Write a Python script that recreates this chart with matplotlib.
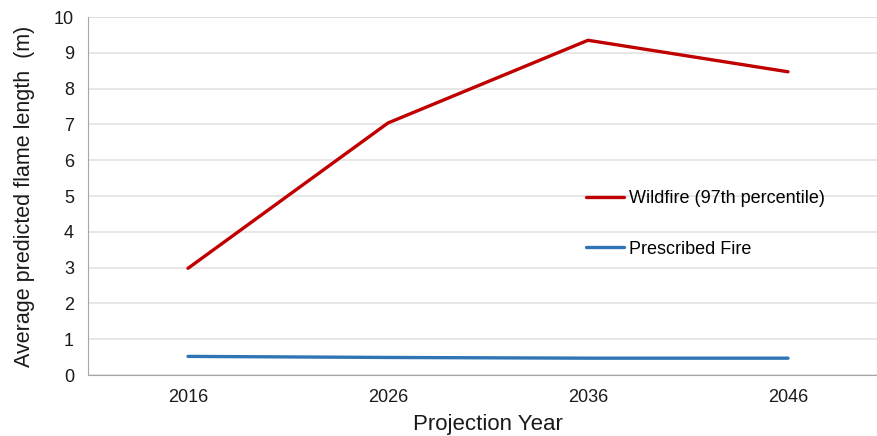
import matplotlib.pyplot as plt

plt.rcParams['font.family'] = ['Liberation Sans', 'DejaVu Sans']

years = ["2016", "2026", "2036", "2046"]
wildfire = [2.98, 7.04, 9.35, 8.47]
prescribed = [0.52, 0.49, 0.47, 0.47]

fig = plt.figure(figsize=(8.78, 4.36), dpi=100)
ax = fig.add_axes([88 / 878, 61 / 436, 800 / 878, 358 / 436])

x = range(len(years))
ax.plot(x, wildfire, color="#C00000", linewidth=2.4, solid_capstyle="round",
        label="Wildfire (97th percentile)")
ax.plot(x, prescribed, color="#2E75B6", linewidth=2.4, solid_capstyle="round",
        label="Prescribed Fire")

ax.set_xlim(-0.5, 3.5)
ax.set_ylim(0, 10)
ax.set_xticks(list(x))
ax.set_xticklabels(years)
ax.set_yticks(range(0, 11))
ax.tick_params(length=0, labelsize=13, colors="#1a1a1a")
ax.tick_params(axis="y", pad=10)
ax.tick_params(axis="x", pad=10)

ax.grid(axis="y", color="#e3e3e3", linewidth=1.2)
ax.set_axisbelow(True)
for side in ["top", "right"]:
    ax.spines[side].set_visible(False)
ax.spines["left"].set_color("#a6a6a6")
ax.spines["bottom"].set_color("#a6a6a6")
ax.axhline(10, color="#bfbfbf", linewidth=1.2, zorder=0)

ax.set_xlabel("Projection Year", fontsize=16, color="#1a1a1a", labelpad=6)
ax.set_ylabel("Average predicted flame length  (m)", fontsize=15.5, color="#1a1a1a", labelpad=14)

ax.legend(loc="center left", bbox_to_anchor=(586 / 878, 1 - 224 / 436),
          bbox_transform=fig.transFigure, frameon=False, fontsize=13,
          handlelength=2.1, handletextpad=0.3, labelspacing=1.85,
          borderpad=0, borderaxespad=0)

fig.savefig("out.png", dpi=100)
